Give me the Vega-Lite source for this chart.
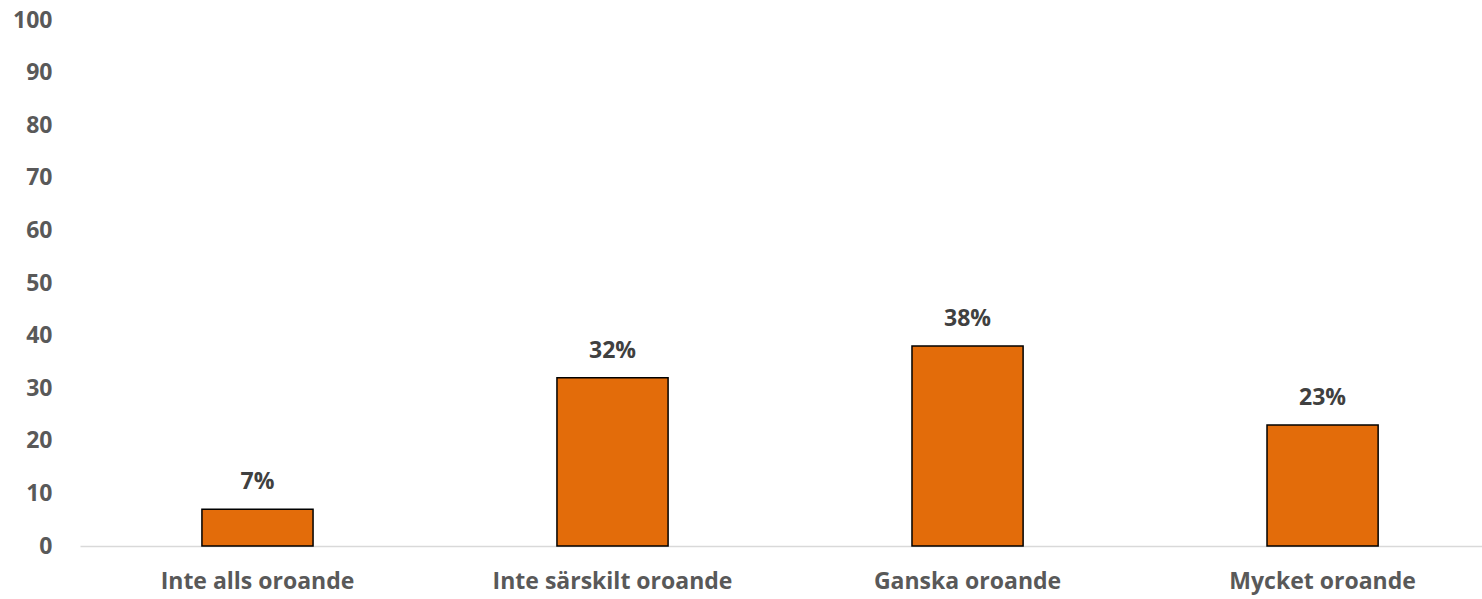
{
  "$schema": "https://vega.github.io/schema/vega-lite/v6.json",
  "width": 1402,
  "height": 526,
  "autosize": {"type": "none"},
  "padding": {"left": 80, "top": 20, "right": 0, "bottom": 53},
  "background": "white",
  "config": {"view": {"stroke": null}, "font": "Open Sans"},
  "data": {
    "values": [
      {"kategori": "Inte alls oroande", "andel": 7, "etikett": "7%"},
      {"kategori": "Inte särskilt oroande", "andel": 32, "etikett": "32%"},
      {"kategori": "Ganska oroande", "andel": 38, "etikett": "38%"},
      {"kategori": "Mycket oroande", "andel": 23, "etikett": "23%"}
    ]
  },
  "encoding": {
    "x": {
      "field": "kategori",
      "type": "nominal",
      "sort": null,
      "scale": {"paddingInner": 0.687, "paddingOuter": 0.318, "align": 0.54},
      "axis": {
        "title": null,
        "labelAngle": 0,
        "labelFont": "Open Sans",
        "labelFontWeight": "bold",
        "labelFontSize": 23,
        "labelColor": "#595959",
        "labelPadding": 24,
        "labelLimit": 0,
        "ticks": false,
        "domainColor": "#D9D9D9",
        "domainWidth": 1.5,
        "grid": false
      }
    },
    "y": {
      "field": "andel",
      "type": "quantitative",
      "scale": {"domain": [0, 100], "nice": false},
      "axis": {
        "title": null,
        "values": [0, 10, 20, 30, 40, 50, 60, 70, 80, 90, 100],
        "labelFont": "Open Sans",
        "labelFontWeight": "bold",
        "labelFontSize": 23,
        "labelColor": "#595959",
        "labelPadding": 28,
        "ticks": false,
        "domain": false,
        "grid": false
      }
    }
  },
  "layer": [
    {
      "mark": {"type": "bar", "color": "#E36C0A", "stroke": "#000000", "strokeWidth": 1.5}
    },
    {
      "mark": {
        "type": "text",
        "baseline": "middle",
        "dy": -27,
        "font": "Open Sans",
        "fontWeight": "bold",
        "fontSize": 23,
        "color": "#404040"
      },
      "encoding": {"text": {"field": "etikett", "type": "nominal"}}
    }
  ]
}
